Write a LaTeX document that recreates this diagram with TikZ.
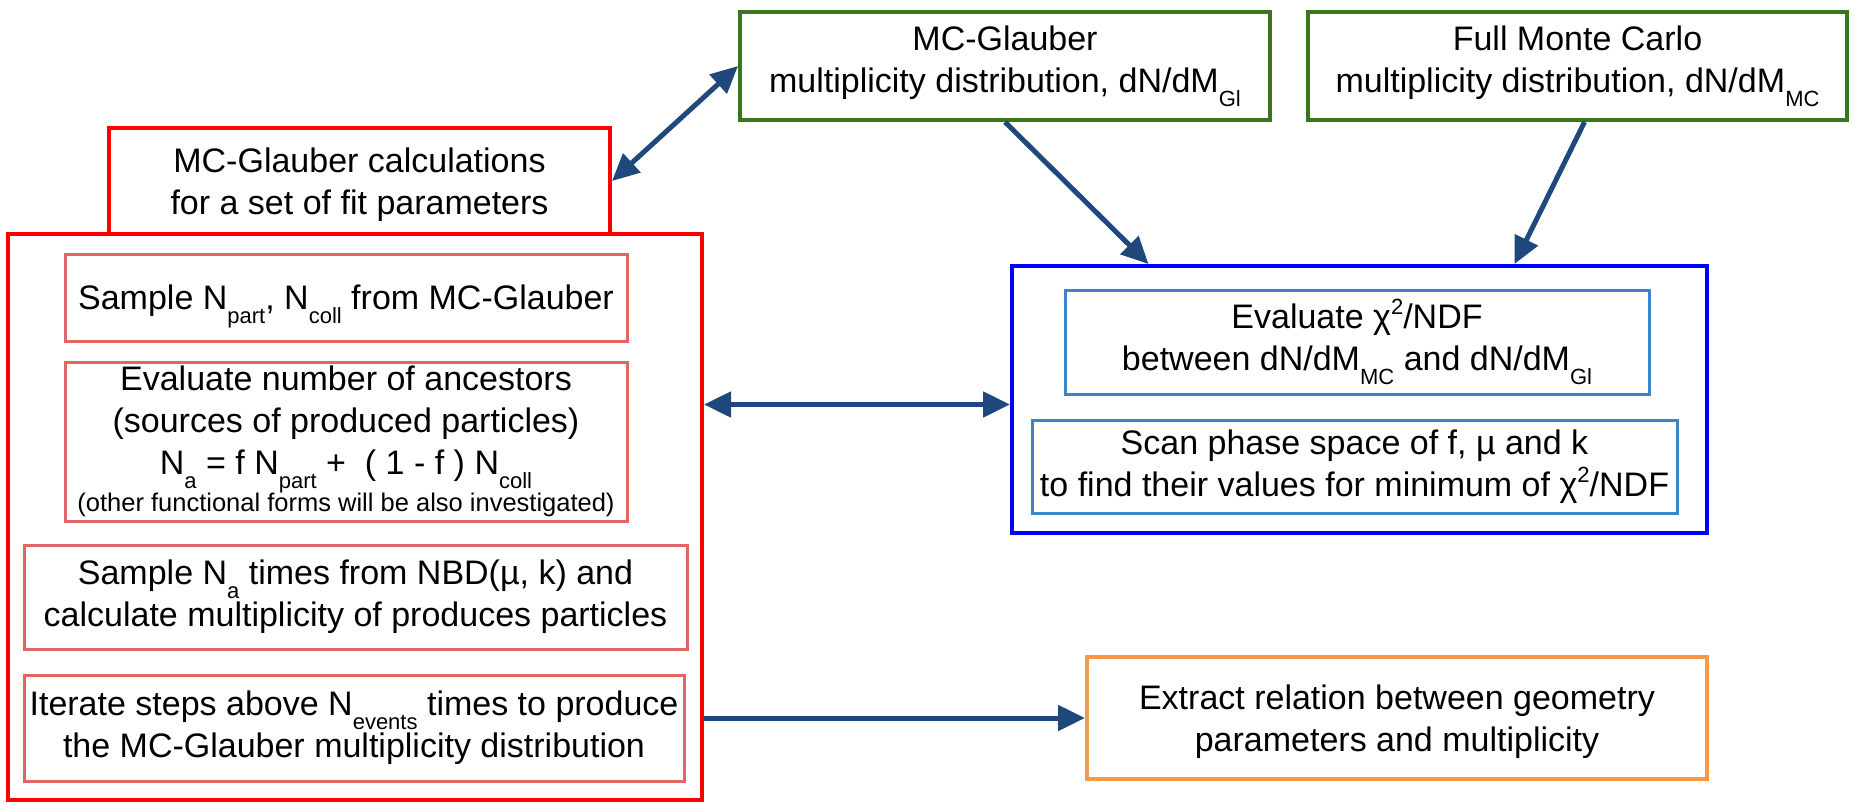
\documentclass[tikz,border=0pt]{standalone}
\usepackage{fontspec}
\setmainfont{Liberation Sans}
\usetikzlibrary{arrows.meta,calc}
\definecolor{glred}{HTML}{FF0000}
\definecolor{steppink}{HTML}{E06666}
\definecolor{srcgreen}{HTML}{38761D}
\definecolor{fitblue}{HTML}{0000FF}
\definecolor{fitlight}{HTML}{3D85C6}
\definecolor{outorange}{HTML}{F6994A}
\definecolor{flowblue}{HTML}{1F497D}
\newcommand\lo[1]{\raisebox{-0.4em}[0pt][0pt]{\fontsize{22}{22}\selectfont #1}}
\newcommand\hi[1]{\raisebox{0.42em}{\fontsize{22}{22}\selectfont #1}}
\tikzset{
  box/.style={draw, rectangle, align=center, inner sep=0pt,
    font=\fontsize{34}{42}\selectfont},
  mainbox/.style={box, glred, line width=4pt, text=black},
  stepbox/.style={box, steppink, line width=3pt, text=black},
  srcbox/.style={box, srcgreen, line width=4pt, text=black, text depth=13pt},
  fitbox/.style={box, fitblue, line width=4pt},
  fitstep/.style={box, fitlight, line width=3pt, text=black},
  outbox/.style={box, outorange, line width=4pt, text=black},
  flow/.style={flowblue, line width=5pt, -{Triangle[length=27pt,width=25pt]}},
  flow2/.style={flow, {Triangle[length=27pt,width=25pt]}-{Triangle[length=27pt,width=25pt]}}
}
\begin{document}
\begin{tikzpicture}[x=1pt,y=-1pt]
\useasboundingbox (0,0) rectangle (1856,804);
% left column: glauber fit
\node[mainbox, minimum width=694pt, minimum height=566pt] (bigbox) at (355,517) {};
\node[mainbox, minimum width=501pt, minimum height=106pt, text depth=-2.3pt] (calcbox) at (359.5,181) {MC-Glauber calculations\\for a set of fit parameters};
\node[stepbox, minimum width=562pt, minimum height=87pt, text depth=-4.7pt] (npart) at (346,297.5) {Sample N\lo{part}, N\lo{coll} from MC-Glauber};
\node[stepbox, minimum width=562pt, minimum height=159pt] (ancest) at (346,441.5) {Evaluate number of ancestors\\(sources of produced particles)\\N\lo{a} = f N\lo{part} +\ \ ( 1 - f ) N\lo{coll}\\[-5pt]{\fontsize{25.5}{30}\selectfont (other functional forms will be also investigated)}};
\node[stepbox, minimum width=663pt, minimum height=104pt] (sampna) at (355.5,597) {Sample N\lo{a} times from NBD(µ, k) and\\calculate multiplicity of produces particles};
\node[stepbox, minimum width=660pt, minimum height=106pt] (iter) at (354,728) {Iterate steps above N\lo{events} times to produce\\the MC-Glauber multiplicity distribution};
% top row: distributions
\node[srcbox, minimum width=530pt, minimum height=108pt] (glgreen) at (1005,66) {MC-Glauber\\multiplicity distribution, dN/dM\lo{Gl}};
\node[srcbox, minimum width=539pt, minimum height=108pt] (mcgreen) at (1577.5,66) {Full Monte Carlo\\multiplicity distribution, dN/dM\lo{MC}};
% right: chi2 minimisation
\node[fitbox, minimum width=695pt, minimum height=267pt] (chibox) at (1359.5,399.5) {};
\node[fitstep, minimum width=584pt, minimum height=104pt, text depth=14pt] (chi) at (1357,342) {Evaluate χ\hi{2}/NDF\\between dN/dM\lo{MC} and dN/dM\lo{Gl}};
\node[fitstep, minimum width=645pt, minimum height=93pt] (scan) at (1354.5,466.5) {Scan phase space of f, µ and k\\to find their values for minimum of χ\hi{2}/NDF};
\node[outbox, minimum width=620pt, minimum height=122pt, text depth=-8.3pt] (extract) at (1397,718) {Extract relation between geometry\\parameters and multiplicity};
\coordinate (dbl) at ($(chibox.west)+(0,5)$);
\draw[flow2] (calcbox.east) -- (glgreen.west);
\draw[flow] (glgreen.south) -- ($(chibox.north)+(-211,0)$);
\draw[flow] ($(mcgreen.south)+(7,0)$) -- ($(chibox.north)+(155,0)$);
\draw[flow2] (bigbox.east |- dbl) -- (dbl);
\draw[flow] (bigbox.east |- extract.west) -- (extract.west);
\end{tikzpicture}
\end{document}
